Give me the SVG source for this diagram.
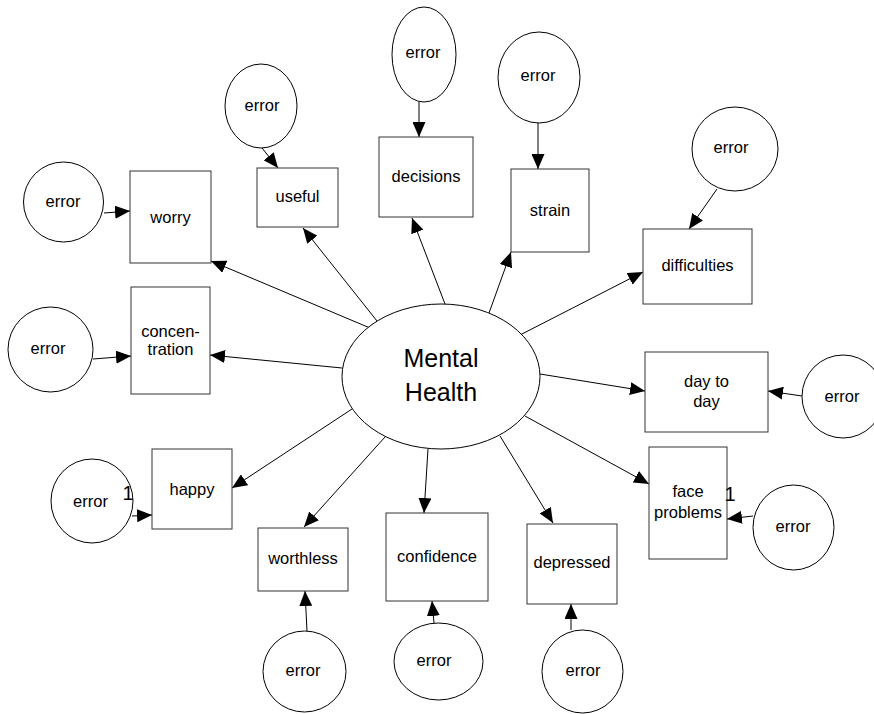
<svg xmlns="http://www.w3.org/2000/svg" width="874" height="714" viewBox="0 0 874 714">
  <style>
    .box { fill: #fff; stroke: #333; stroke-width: 1; }
    .err { fill: #fff; stroke: #000; stroke-width: 1; }
    .lbl { font-family: "Liberation Sans", Arial, sans-serif; font-size: 16.5px; fill: #000; text-anchor: middle; }
    .big { font-family: "Liberation Sans", Arial, sans-serif; font-size: 25px; fill: #000; text-anchor: middle; }
    .one { font-family: "Liberation Sans", Arial, sans-serif; font-size: 20px; fill: #000; text-anchor: middle; }
    .edge { stroke: #000; stroke-width: 1; fill: none; marker-end: url(#arrow); }
  </style>
  <defs>
    <marker id="arrow" markerUnits="userSpaceOnUse" markerWidth="15" markerHeight="13" refX="15" refY="6.5" orient="auto">
      <path d="M0,0 L15,6.5 L0,13 z" fill="#000"/>
    </marker>
  </defs>
  <rect width="874" height="714" fill="#fff"/>

  <!-- connectors -->
  <g id="connectors">
    <!-- factor loadings -->
    <line class="edge" x1="370" y1="328" x2="211" y2="261"/>
    <line class="edge" x1="377" y1="321" x2="303" y2="228"/>
    <line class="edge" x1="445" y1="304" x2="412" y2="218"/>
    <line class="edge" x1="489" y1="313" x2="511" y2="252"/>
    <line class="edge" x1="520" y1="335" x2="643" y2="272"/>
    <line class="edge" x1="540" y1="374" x2="645" y2="391"/>
    <line class="edge" x1="525" y1="416" x2="649" y2="484"/>
    <line class="edge" x1="500" y1="436" x2="553" y2="523"/>
    <line class="edge" x1="428" y1="449" x2="424" y2="513"/>
    <line class="edge" x1="385" y1="437" x2="304" y2="527"/>
    <line class="edge" x1="352" y1="409" x2="232" y2="488"/>
    <line class="edge" x1="342" y1="368" x2="210" y2="355"/>
    <!-- error terms -->
    <line class="edge" x1="104" y1="213" x2="130" y2="211"/>
    <line class="edge" x1="93" y1="359" x2="131" y2="356"/>
    <line class="edge" x1="262" y1="148" x2="278" y2="168"/>
    <line class="edge" x1="419" y1="102" x2="419" y2="137"/>
    <line class="edge" x1="538" y1="123" x2="538" y2="169"/>
    <line class="edge" x1="717" y1="189" x2="689" y2="229"/>
    <line class="edge" x1="802" y1="396" x2="768" y2="391"/>
    <line class="edge" x1="753" y1="516" x2="727" y2="519"/>
    <line class="edge" x1="132" y1="516" x2="152" y2="515"/>
    <line class="edge" x1="307" y1="631" x2="305" y2="591"/>
    <line class="edge" x1="434" y1="623" x2="432" y2="601"/>
    <line class="edge" x1="571" y1="630" x2="571" y2="604"/>
  </g>

  <!-- latent factor -->
  <g id="mental-health">
    <ellipse class="err" cx="441" cy="376.5" rx="99" ry="72.5"/>
    <text class="big" x="441" y="367">Mental</text>
    <text class="big" x="441" y="401">Health</text>
  </g>

  <!-- observed items -->
  <g id="worry"><rect class="box" x="130" y="171" width="81" height="92"/><text class="lbl" x="170.5" y="223">worry</text></g>
  <g id="concentration"><rect class="box" x="131" y="287" width="79" height="107"/><text class="lbl" x="170.5" y="337">concen-</text><text class="lbl" x="170.5" y="355">tration</text></g>
  <g id="useful"><rect class="box" x="257" y="168" width="81" height="59"/><text class="lbl" x="297.5" y="202">useful</text></g>
  <g id="decisions"><rect class="box" x="379" y="137" width="94" height="80"/><text class="lbl" x="426" y="182">decisions</text></g>
  <g id="strain"><rect class="box" x="511" y="169" width="78" height="83"/><text class="lbl" x="550" y="216">strain</text></g>
  <g id="difficulties"><rect class="box" x="643" y="229" width="109" height="75"/><text class="lbl" x="697.5" y="271">difficulties</text></g>
  <g id="day-to-day"><rect class="box" x="645" y="352" width="123" height="80"/><text class="lbl" x="706.5" y="387">day to</text><text class="lbl" x="706.5" y="407">day</text></g>
  <g id="face-problems"><rect class="box" x="649" y="447" width="78" height="112"/><text class="lbl" x="688" y="497">face</text><text class="lbl" x="688" y="518">problems</text></g>
  <g id="happy"><rect class="box" x="152" y="449" width="80" height="80"/><text class="lbl" x="192" y="495">happy</text></g>
  <g id="worthless"><rect class="box" x="258" y="528" width="90" height="63"/><text class="lbl" x="303" y="564">worthless</text></g>
  <g id="confidence"><rect class="box" x="386" y="513" width="102" height="88"/><text class="lbl" x="437" y="562">confidence</text></g>
  <g id="depressed"><rect class="box" x="527" y="524" width="90" height="80"/><text class="lbl" x="572" y="568">depressed</text></g>

  <!-- error terms -->
  <g id="err-worry"><ellipse class="err" cx="63.5" cy="202" rx="40" ry="40"/><text class="lbl" x="63" y="207">error</text></g>
  <g id="err-concentration"><ellipse class="err" cx="50.5" cy="349.5" rx="42.5" ry="42.5"/><text class="lbl" x="48" y="354">error</text></g>
  <g id="err-useful"><ellipse class="err" cx="261" cy="106" rx="36" ry="42"/><text class="lbl" x="262" y="111">error</text></g>
  <g id="err-decisions"><ellipse class="err" cx="424" cy="54.5" rx="32" ry="47.5"/><text class="lbl" x="423" y="58">error</text></g>
  <g id="err-strain"><ellipse class="err" cx="539" cy="77.5" rx="41" ry="45.5"/><text class="lbl" x="538" y="81">error</text></g>
  <g id="err-difficulties"><ellipse class="err" cx="735" cy="149" rx="43" ry="42"/><text class="lbl" x="731" y="153">error</text></g>
  <g id="err-day-to-day"><ellipse class="err" cx="843" cy="396.5" rx="41" ry="41.5"/><text class="lbl" x="842" y="402">error</text></g>
  <g id="err-face-problems"><ellipse class="err" cx="793.5" cy="527.5" rx="40.5" ry="42.5"/><text class="lbl" x="793" y="532">error</text></g>
  <g id="err-happy"><ellipse class="err" cx="92" cy="501" rx="41" ry="42"/><text class="lbl" x="90.5" y="507">error</text></g>
  <g id="err-worthless"><ellipse class="err" cx="304.5" cy="671.5" rx="41.5" ry="40.5"/><text class="lbl" x="303" y="676">error</text></g>
  <g id="err-confidence"><ellipse class="err" cx="438.5" cy="661.5" rx="44.5" ry="38.5"/><text class="lbl" x="434" y="666">error</text></g>
  <g id="err-depressed"><ellipse class="err" cx="582.5" cy="671.5" rx="40.5" ry="41.5"/><text class="lbl" x="583" y="676">error</text></g>

  <!-- fixed path values -->
  <text class="one" x="128" y="500">1</text>
  <text class="one" x="730" y="501">1</text>
</svg>
